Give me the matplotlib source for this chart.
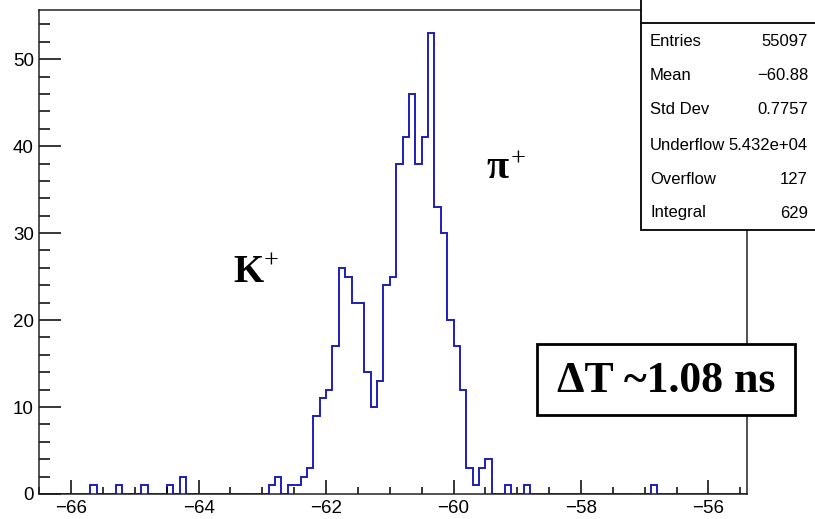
import numpy as np
import matplotlib
matplotlib.use("Agg")
import matplotlib.pyplot as plt
from matplotlib.ticker import MultipleLocator
from matplotlib.patches import Rectangle

# ---- data ----
x_low = -66.5
bin_width = 0.1
n_bins = 111
nonzero_bin_low = [-65.7, -65.3, -64.9, -64.5, -64.3,
                   -62.9, -62.8, -62.6, -62.5, -62.4, -62.3, -62.2, -62.1, -62.0,
                   -61.9, -61.8, -61.7, -61.6, -61.5, -61.4, -61.3, -61.2, -61.1,
                   -61.0, -60.9, -60.8, -60.7, -60.6, -60.5, -60.4, -60.3, -60.2,
                   -60.1, -60.0, -59.9, -59.8, -59.7, -59.6, -59.5,
                   -59.2, -58.9, -56.9]
nonzero_counts = [1, 1, 1, 1, 2,
                  1, 2, 1, 1, 2, 3, 9, 11, 12,
                  17, 26, 25, 22, 22, 14, 10, 13, 24,
                  25, 38, 41, 46, 38, 41, 53, 33, 30,
                  20, 17, 12, 3, 1, 3, 4,
                  1, 1, 1]
stat_labels = ["Entries", "Mean", "Std Dev", "Underflow", "Overflow", "Integral"]
stat_values = ["55097", "\u221260.88", "0.7757", "5.432e+04", "127", "629"]
x_ticks = [-66, -64, -62, -60, -58, -56]
y_ticks = [0, 10, 20, 30, 40, 50]

# ---- build histogram ----
edges = x_low + bin_width * np.arange(n_bins + 1)
counts = np.zeros(n_bins)
for lo, c in zip(nonzero_bin_low, nonzero_counts):
    idx = int(round((lo - x_low) / bin_width))
    counts[idx] = c

W, H = 815, 519
fig = plt.figure(figsize=(W / 100, H / 100), dpi=100)
left, right, bottom, top = 39.3, 746.7, 494.0, 10.0
ax = fig.add_axes([left / W, (H - bottom) / H, (right - left) / W, (bottom - top) / H])

ax.stairs(counts, edges, color="#1e1eb8", linewidth=1.4, baseline=0)
ax.set_xlim(-66.5, -55.4)
ax.set_ylim(0, 55.65)

ax.set_xticks(x_ticks)
ax.set_yticks(y_ticks)
ax.xaxis.set_minor_locator(MultipleLocator(0.5))
ax.yaxis.set_minor_locator(MultipleLocator(2))
tick_font = dict(family=["Liberation Sans", "DejaVu Sans"], size=13.5)
ax.set_xticklabels([f"\u2212{abs(v)}" for v in x_ticks], **tick_font)
ax.set_yticklabels([str(v) for v in y_ticks], **tick_font)
ax.tick_params(axis="x", which="major", direction="in", length=10, width=1.1, pad=4, top=False)
ax.tick_params(axis="x", which="minor", direction="in", length=5, width=1.1, top=False)
ax.tick_params(axis="y", which="major", direction="in", length=15.5, width=1.1, pad=4, right=False)
ax.tick_params(axis="y", which="minor", direction="in", length=7.8, width=1.1, right=False)
for s in ax.spines.values():
    s.set_linewidth(1.1)
    s.set_color("#222222")

# ---- overlay in pixel coordinates for annotations ----
ov = fig.add_axes([0, 0, 1, 1], facecolor="none")
ov.set_xlim(0, W)
ov.set_ylim(H, 0)
ov.axis("off")

# stats box
ov.add_patch(Rectangle((641, -20), 200, 250, facecolor="white", edgecolor="black", linewidth=1.3, zorder=5))
ov.plot([641, 815], [23, 23], color="black", linewidth=1.3, zorder=6)
stat_y = [42, 76, 110, 145, 180, 213]
sfont = dict(family=["Liberation Sans", "DejaVu Sans"], size=12, zorder=7)
for lab, val, yy in zip(stat_labels, stat_values, stat_y):
    ov.text(650, yy, lab, ha="left", va="center", **sfont)
    ov.text(808, yy, val, ha="right", va="center", **sfont)

serif = ["Liberation Serif", "DejaVu Serif"]
ov.text(233, 272, "K", ha="left", va="center", family=serif, weight="bold", size=28)
ov.text(264, 262, "+", ha="left", va="center", family=serif, size=19)
ov.text(486, 168, "\u03c0", ha="left", va="center", family=serif, weight="bold", size=29)
ov.text(511, 160, "+", ha="left", va="center", family=serif, size=19)

ov.add_patch(Rectangle((537, 344), 258, 71, facecolor="white", edgecolor="black", linewidth=2.0, zorder=5))
ov.text(666, 381, "\u0394T ~1.08 ns", ha="center", va="center", family=serif, weight="bold", size=31.5, zorder=6)

fig.savefig("out.png", dpi=100)
